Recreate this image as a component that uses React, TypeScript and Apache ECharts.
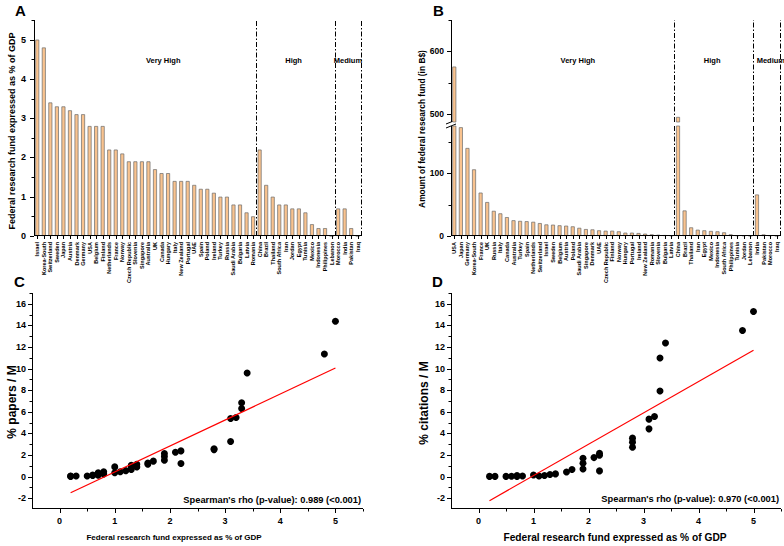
import React, { useEffect, useRef } from 'react';
import * as echarts from 'echarts';

const FONT = '"Liberation Sans", Arial, Helvetica, sans-serif';

// Panel A
const countriesA = ['Israel','Korea-South','Switzerland','Sweden','Japan','Austria','Denmark','Germany','USA','Belgium','Finland','Netherlands','France','Norway','Czech Republic','Slovenia','Singapore','Australia','UK','Canada','Hungary','Italy','New Zealand','Portugal','UAE','Spain','Poland','Ireland','Turkey','Russia','Saudi Arabia','Bulgaria','Latvia','Romania','China','Brazil','Thailand','South Africa','Iran','Jordan','Egypt','Tunisia','Mexico','Indonesia','Philippines','Lebanon','Morocco','India','Pakistan','Iraq'];
const fundPctA = [5.0,4.8,3.4,3.3,3.3,3.2,3.1,3.1,2.8,2.8,2.8,2.2,2.2,2.1,1.9,1.9,1.9,1.9,1.7,1.6,1.6,1.4,1.4,1.4,1.3,1.2,1.2,1.1,1.0,1.0,0.8,0.8,0.6,0.5,2.2,1.3,1.0,0.8,0.8,0.7,0.7,0.6,0.3,0.2,0.2,0,0.7,0.7,0.2,0];

// Panel B
const countriesB = ['USA','Japan','Germany','Korea-South','France','UK','Russia','Italy','Canada','Australia','Turkey','Spain','Netherlands','Switzerland','Israel','Sweden','Belgium','Austria','Poland','Saudi Arabia','Singapore','Denmark','UAE','Czech Republic','Finland','Norway','Hungary','Portugal','Ireland','New Zealand','Romania','Slovenia','Bulgaria','Latvia','China','Brazil','Thailand','Iran','Egypt','Mexico','Indonesia','South Africa','Philippines','Tunisia','Jordan','Lebanon','India','Pakistan','Morocco','Iraq'];
const fundAmountB = [576,173,140,106,69,54,40,36,30,25,24,23.5,22.6,20.5,18.4,18,17,16.4,15.3,13,11,10.5,9,8.4,8.4,7.4,5.3,5.3,4.7,3.7,2.6,2,1.5,0.8,496,40.6,13.7,10,9,8,7.4,5.8,2.6,1,0.8,0.3,66,2.5,1,0.3];

// Income groups (category index bounds)
const groupNames = ['Very High', 'High', 'Medium'];
const groupBounds = [0, 34, 46, 50];

// Panel C: fund % GDP vs % papers / M
const papersPoints = [
  [0.2,0.05],[0.2,0.02],[0.3,0.05],[0.5,0.05],[0.6,0.1],[0.6,0.15],[0.7,0.35],[0.7,0.12],[0.8,0.45],[0.8,0.25],
  [1.0,0.9],[1.0,0.35],[1.1,0.45],[1.2,0.55],[1.3,1.05],[1.3,0.85],[1.3,0.65],[1.4,1.15],[1.4,0.9],
  [1.6,1.15],[1.6,1.25],[1.7,1.43],[1.9,2.13],[1.9,1.86],[1.9,1.52],[2.1,2.26],[2.2,2.38],[2.2,1.21],
  [2.8,2.57],[2.8,2.5],[3.1,3.25],[3.1,5.38],[3.2,5.48],[3.3,6.84],[3.3,6.31],[3.4,9.59],[4.8,11.35],[5.0,14.38]
];
const papersFit = [[0.2,-1.5],[5.0,10.05]];
const papersRho = "Spearman's rho (p-value): 0.989 (<0.001)";

// Panel D: fund % GDP vs % citations / M
const citationsPoints = [
  [0.2,0.02],[0.3,0.02],[0.5,0.02],[0.6,0.03],[0.7,0.1],[0.7,0.02],[0.8,0.05],[1.0,0.15],[1.1,0.05],[1.2,0.1],
  [1.3,0.2],[1.4,0.25],[1.6,0.43],[1.7,0.65],[1.9,1.7],[1.9,1.24],[1.9,0.71],[2.1,1.76],[2.2,2.16],[2.2,1.98],
  [2.2,0.53],[2.8,3.56],[2.8,3.19],[2.8,2.72],[3.1,5.32],[3.1,4.42],[3.2,5.57],[3.3,10.98],[3.3,7.92],[3.4,12.37],
  [4.8,13.52],[5.0,15.28]
];
const citationsFit = [[0.2,-2.23],[5.0,11.69]];
const citationsRho = "Spearman's rho (p-value): 0.970 (<0.001)";

// Axis ranges and tick values
const scatterXRange = [-0.5, 5.5];
const scatterYRange = [-3, 17];
const scatterXMajor = [0,1,2,3,4,5];
const scatterXMinor = [0.5,1.5,2.5,3.5,4.5,5.5];
const scatterYMajor = [-2,0,2,4,6,8,10,12,14,16];
const scatterYMinor = [-1,1,3,5,7,9,11,13,15,17];
const aYMajor = [0,1,2,3,4,5];
const aYMinor = [0.5,1.5,2.5,3.5,4.5,5.5];
const bUpperMajor = [500,600];
const bUpperMinor = [550,650];
const bLowerMajor = [0,100];
const bLowerMinor = [50,150];

const xTitle = 'Federal research fund expressed as % of GDP';

const BAR_FILL = '#F9C38F';
const BAR_EDGE = '#6a6a6a';
const BLACK = '#000000';

export default function App() {
  const ref = useRef<HTMLDivElement>(null);

  useEffect(() => {
    if (!ref.current) return;
    const chart = echarts.init(ref.current, null, { renderer: 'svg' });

    // Scatter axes are expressed relative to their lower bound so the axes sit on the plot edges.
    const X0 = scatterXRange[0];
    const Y0 = scatterYRange[0];
    const toPlot = (pts: number[][]) => pts.map(([x, y]) => [x - X0, y - Y0]);

    const tickLabel = { color: BLACK, fontFamily: FONT, fontWeight: 'bold' as const };
    const catLabel = { color: BLACK, fontFamily: FONT, fontWeight: 'bold' as const, fontSize: 5.5, rotate: 90, interval: 0, margin: 6 };
    const hideLine = { show: false };
    const hideTick = { show: false };
    const noSplit = { show: false };

    const sepLine = {
      silent: true,
      symbol: ['none', 'none'],
      label: { show: false },
      lineStyle: { color: BLACK, width: 1, type: [5, 2, 1.5, 2] },
      data: [{ xAxis: groupBounds[1] }, { xAxis: groupBounds[2] }, { xAxis: groupBounds[3] }],
    };
    const makeArea = (offsets: number[]) => ({
      silent: true,
      itemStyle: { color: 'rgba(0,0,0,0)' },
      label: { show: true, position: 'insideTop', distance: 0, color: BLACK, fontFamily: FONT, fontWeight: 'bold', fontSize: 7.5 },
      data: groupNames.map((n, i) => [
        { name: n, xAxis: groupBounds[i], label: { offset: [offsets[i], 36] } },
        { xAxis: groupBounds[i + 1] },
      ]),
    });
    const isInt = (v: number) => Math.abs(v - Math.round(v)) < 1e-9;
    const intOnly = (v: number) => (isInt(v) ? String(Math.round(v)) : '');
    const upperB = fundAmountB.map((v) => (v > 488 ? v : '-'));
    const catIdxA = countriesA.map((_, i) => i);
    const catIdxB = countriesB.map((_, i) => i);
    const shiftX = (vals: number[]) => vals.map((v) => v - X0);
    const shiftY = (vals: number[]) => vals.map((v) => v - Y0);

    const scatterX = (grid: number) => ({
      type: 'value', gridIndex: grid, position: 'bottom', min: 0, max: scatterXRange[1] - X0, interval: 0.5,
      axisLine: hideLine, axisTick: hideTick,
      axisLabel: { ...tickLabel, fontSize: 9, margin: 7, formatter: (v: number) => { const x = v + X0; return isInt(x) ? String(Math.round(x)) : ''; } },
      splitLine: noSplit,
    });
    const scatterY = (grid: number) => ({
      type: 'value', gridIndex: grid, position: 'left', min: 0, max: scatterYRange[1] - Y0, interval: 1,
      axisLine: hideLine, axisTick: hideTick,
      axisLabel: { ...tickLabel, fontSize: 9, margin: 6, formatter: (v: number) => { const y = Math.round(v + Y0); return y % 2 === 0 ? String(y) : ''; } },
      splitLine: noSplit,
    });

    const grids = [
      { left: 34, top: 20, width: 327, height: 216 },
      { left: 451, top: 20, width: 329, height: 102 },
      { left: 451, top: 126, width: 329, height: 110 },
      { left: 32, top: 293, width: 331, height: 216 },
      { left: 451, top: 293, width: 331, height: 216 },
    ];

    const baseGraphic: any[] = [
      { id: 'lA', type: 'text', left: 15, top: 3, style: { text: 'A', font: `bold 15px ${FONT}`, fill: BLACK } },
      { id: 'lB', type: 'text', left: 433, top: 3, style: { text: 'B', font: `bold 15px ${FONT}`, fill: BLACK } },
      { id: 'lC', type: 'text', left: 14, top: 274, style: { text: 'C', font: `bold 15px ${FONT}`, fill: BLACK } },
      { id: 'lD', type: 'text', left: 432, top: 274, style: { text: 'D', font: `bold 15px ${FONT}`, fill: BLACK } },
      { id: 'tA', type: 'text', x: 12, y: 131, rotation: Math.PI / 2,
        style: { text: xTitle, font: `bold 9px ${FONT}`, fill: BLACK, align: 'center', verticalAlign: 'middle' } },
      { id: 'tB', type: 'text', x: 422, y: 129, rotation: Math.PI / 2,
        style: { text: 'Amount of federal research fund (in B$)', font: `bold 8.4px ${FONT}`, fill: BLACK, align: 'center', verticalAlign: 'middle' } },
      { id: 'tC', type: 'text', x: 12, y: 402, rotation: Math.PI / 2,
        style: { text: '% papers / M', font: `bold 12px ${FONT}`, fill: BLACK, align: 'center', verticalAlign: 'middle' } },
      { id: 'tD', type: 'text', x: 424, y: 403, rotation: Math.PI / 2,
        style: { text: '% citations / M', font: `bold 12px ${FONT}`, fill: BLACK, align: 'center', verticalAlign: 'middle' } },
      { id: 'xC', type: 'text', x: 174, y: 537,
        style: { text: xTitle, font: `bold 8px ${FONT}`, fill: BLACK, align: 'center', verticalAlign: 'middle' } },
      { id: 'xD', type: 'text', x: 615, y: 537,
        style: { text: xTitle, font: `bold 10.2px ${FONT}`, fill: BLACK, align: 'center', verticalAlign: 'middle' } },
      { id: 'rC', type: 'text', x: 361, y: 500,
        style: { text: papersRho, font: `bold 9.3px ${FONT}`, fill: BLACK, align: 'right', verticalAlign: 'middle' } },
      { id: 'rD', type: 'text', x: 779, y: 499,
        style: { text: citationsRho, font: `bold 9.3px ${FONT}`, fill: BLACK, align: 'right', verticalAlign: 'middle' } },
      // axis break marks on panel B
      { id: 'br1', type: 'line', shape: { x1: 446, y1: 124, x2: 456, y2: 120 }, style: { stroke: BLACK, lineWidth: 1 } },
      { id: 'br2', type: 'line', shape: { x1: 446, y1: 128, x2: 456, y2: 124 }, style: { stroke: BLACK, lineWidth: 1 } },
    ];

    const option: any = {
      animation: false,
      backgroundColor: '#fff',
      grid: grids,
      xAxis: [
        { type: 'category', gridIndex: 0, position: 'bottom', data: countriesA, axisLine: hideLine, axisTick: hideTick,
          axisLabel: catLabel, splitLine: noSplit },
        { type: 'value', gridIndex: 0, position: 'top', min: 0, max: 50, show: false },
        { type: 'category', gridIndex: 1, position: 'bottom', data: countriesB, show: false },
        { type: 'value', gridIndex: 1, position: 'top', min: 0, max: 50, show: false },
        { type: 'category', gridIndex: 2, position: 'bottom', data: countriesB, axisLine: hideLine, axisTick: hideTick,
          axisLabel: catLabel, splitLine: noSplit },
        { type: 'value', gridIndex: 2, position: 'top', min: 0, max: 50, show: false },
        scatterX(3),
        scatterX(4),
      ],
      yAxis: [
        { type: 'value', gridIndex: 0, position: 'left', min: 0, max: 5.5, interval: 1, axisLine: hideLine, axisTick: hideTick,
          axisLabel: { ...tickLabel, fontSize: 9, margin: 8, formatter: intOnly }, splitLine: noSplit },
        { type: 'value', gridIndex: 1, position: 'left', min: 488, max: 650, axisLine: hideLine, axisTick: hideTick,
          axisLabel: { ...tickLabel, fontSize: 8.5, margin: 7, customValues: bUpperMajor }, splitLine: noSplit },
        { type: 'value', gridIndex: 2, position: 'left', min: 0, max: 175, interval: 100, axisLine: hideLine, axisTick: hideTick,
          axisLabel: { ...tickLabel, fontSize: 8.5, margin: 7, formatter: (v: number) => (v % 100 === 0 ? String(v) : '') },
          splitLine: noSplit },
        scatterY(3),
        scatterY(4),
      ],
      series: [
        { type: 'bar', xAxisIndex: 0, yAxisIndex: 0, data: fundPctA, barWidth: '60%',
          itemStyle: { color: BAR_FILL, borderColor: BAR_EDGE, borderWidth: 0.7 } },
        { type: 'scatter', xAxisIndex: 1, yAxisIndex: 0, data: [[0, 0]], symbolSize: 0, silent: true,
          markLine: sepLine, markArea: makeArea([18, -2, 0]) },
        { type: 'bar', xAxisIndex: 2, yAxisIndex: 1, data: upperB, barWidth: '60%',
          itemStyle: { color: BAR_FILL, borderColor: BAR_EDGE, borderWidth: 0.7 } },
        { type: 'scatter', xAxisIndex: 3, yAxisIndex: 1, data: [[0, 600]], symbolSize: 0, silent: true,
          markLine: sepLine, markArea: makeArea([15, -2, 4]) },
        { type: 'bar', xAxisIndex: 4, yAxisIndex: 2, data: fundAmountB, barWidth: '60%',
          itemStyle: { color: BAR_FILL, borderColor: BAR_EDGE, borderWidth: 0.7 } },
        { type: 'scatter', xAxisIndex: 5, yAxisIndex: 2, data: [[0, 0]], symbolSize: 0, silent: true,
          markLine: sepLine },
        { type: 'scatter', xAxisIndex: 6, yAxisIndex: 3, data: toPlot(papersPoints), symbolSize: 7,
          itemStyle: { color: BLACK, opacity: 1 } },
        { type: 'line', xAxisIndex: 6, yAxisIndex: 3, data: toPlot(papersFit), symbol: 'none',
          lineStyle: { color: '#ff0000', width: 1.2 } },
        { type: 'scatter', xAxisIndex: 7, yAxisIndex: 4, data: toPlot(citationsPoints), symbolSize: 7,
          itemStyle: { color: BLACK, opacity: 1 } },
        { type: 'line', xAxisIndex: 7, yAxisIndex: 4, data: toPlot(citationsFit), symbol: 'none',
          lineStyle: { color: '#ff0000', width: 1.2 } },
      ],
      graphic: baseGraphic,
    };

    chart.setOption(option);

    // Axis lines and ticks, positioned through the chart's own scales.
    const extra: any[] = [];
    let n = 0;
    const seg = (x1: number, y1: number, x2: number, y2: number) => {
      if (![x1, y1, x2, y2].every((v) => typeof v === 'number' && isFinite(v))) return;
      extra.push({ id: 'ax' + n++, type: 'line', silent: true, z: 50, shape: { x1, y1, x2, y2 }, style: { stroke: BLACK, lineWidth: 1 } });
    };
    const rectOf = (gi: number) => {
      try {
        const r = (chart as any).getModel().getComponent('grid', gi).coordinateSystem.getRect();
        if (r && isFinite(r.x) && isFinite(r.width)) return r;
      } catch (e) { /* fall back */ }
      const g = grids[gi];
      return { x: g.left, y: g.top, width: g.width, height: g.height };
    };
    const toPx = (finder: any, v: number) => {
      try {
        const p: any = chart.convertToPixel(finder, v as any);
        return Array.isArray(p) ? p[0] : p;
      } catch (e) { return NaN; }
    };
    const frame = (gi: number, bottom: boolean) => {
      const r = rectOf(gi);
      const L = Math.round(r.x) + 0.5;
      const B = Math.round(r.y + r.height) - 0.5;
      seg(L, Math.round(r.y), L, B + 0.5);
      if (bottom) seg(L - 0.5, B, Math.round(r.x + r.width), B);
    };
    const xTicks = (gi: number, xi: number, values: number[], len: number) => {
      const r = rectOf(gi);
      const y = Math.round(r.y + r.height);
      values.forEach((v) => {
        const p = toPx({ xAxisIndex: xi }, v);
        if (isFinite(p)) { const x = Math.round(p) + 0.5; seg(x, y, x, y + len); }
      });
    };
    const yTicks = (gi: number, yi: number, values: number[], len: number) => {
      const r = rectOf(gi);
      const x = Math.round(r.x);
      values.forEach((v) => {
        const p = toPx({ yAxisIndex: yi }, v);
        if (isFinite(p)) { const y = Math.round(p) + 0.5; seg(x - len, y, x, y); }
      });
    };

    frame(0, true);
    xTicks(0, 0, catIdxA, 3);
    yTicks(0, 0, aYMajor, 4);
    yTicks(0, 0, aYMinor, 2.5);
    frame(1, false);
    yTicks(1, 1, bUpperMajor, 4);
    yTicks(1, 1, bUpperMinor, 2.5);
    frame(2, true);
    xTicks(2, 4, catIdxB, 3);
    yTicks(2, 2, bLowerMajor, 4);
    yTicks(2, 2, bLowerMinor, 2.5);
    frame(3, true);
    xTicks(3, 6, shiftX(scatterXMajor), 4);
    xTicks(3, 6, shiftX(scatterXMinor), 2.5);
    yTicks(3, 3, shiftY(scatterYMajor), 4);
    yTicks(3, 3, shiftY(scatterYMinor), 2.5);
    frame(4, true);
    xTicks(4, 7, shiftX(scatterXMajor), 4);
    xTicks(4, 7, shiftX(scatterXMinor), 2.5);
    yTicks(4, 4, shiftY(scatterYMajor), 4);
    yTicks(4, 4, shiftY(scatterYMinor), 2.5);

    chart.setOption({ graphic: [...baseGraphic, ...extra] });

    return () => chart.dispose();
  }, []);

  return (
    <div
      ref={ref}
      style={{ position: 'fixed', left: 0, top: 0, width: 784, height: 546, background: '#fff' }}
    />
  );
}
